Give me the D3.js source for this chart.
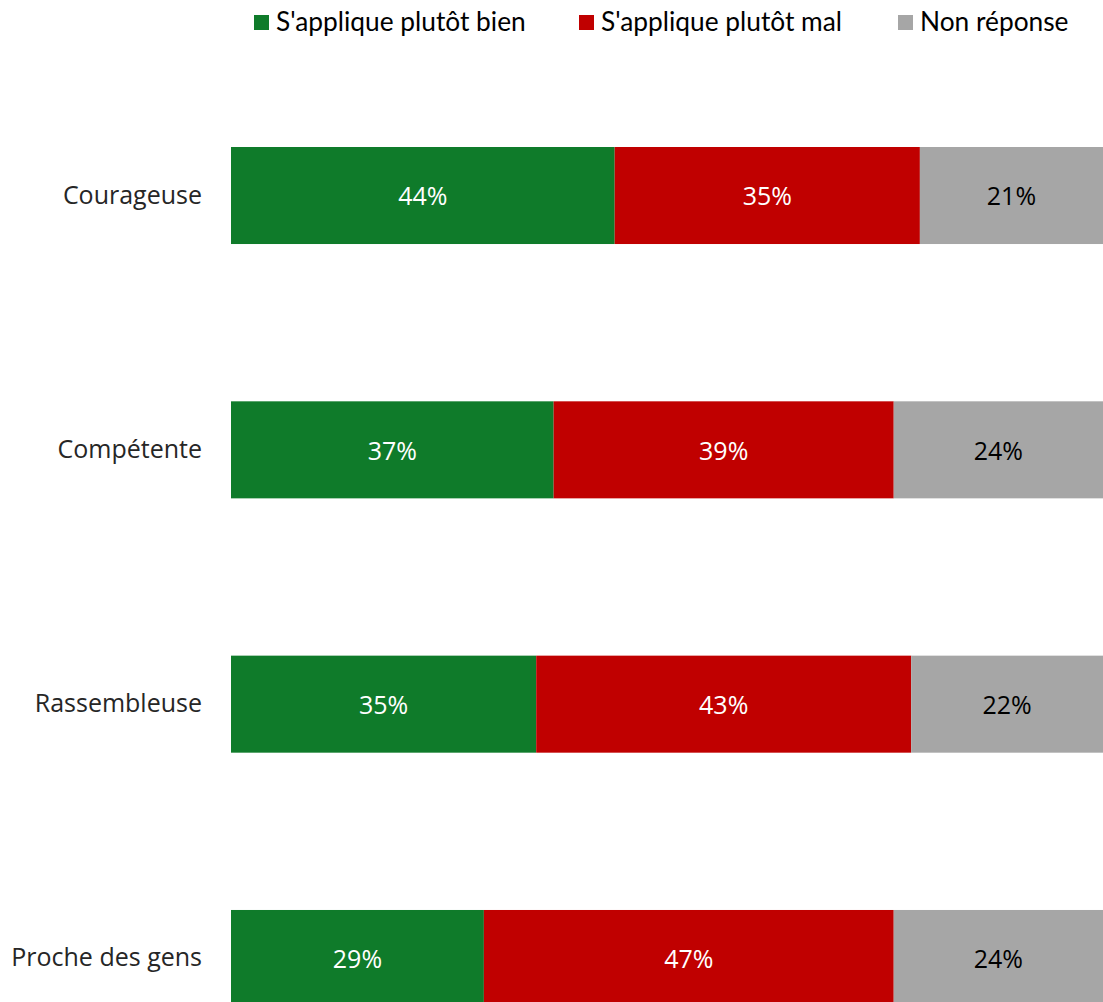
<!DOCTYPE html>
<html><head><meta charset="utf-8">
<script src="https://cdn.jsdelivr.net/npm/d3@7"></script>
<style>body{margin:0;background:#fff}svg{display:block}</style>
</head><body>
<svg id="c" width="1103" height="1002"></svg>
<script>
const categories = ["Courageuse","Compétente","Rassembleuse","Proche des gens"];
const seriesNames = ["S'applique plutôt bien","S'applique plutôt mal","Non réponse"];
const bien = [44,37,35,29];
const mal = [35,39,43,47];
const nonRep = [21,24,22,24];
const colors = ["#0f7b2a","#c00000","#a6a6a6"];
const textColors = ["#ffffff","#ffffff","#000000"];

const svg = d3.select("#c");
const x = d3.scaleLinear().domain([0,100]).range([231,1103]);
const y = d3.scaleBand().domain(categories).range([147,1007]).paddingInner(0.6185).paddingOuter(0);

const rows = categories.map((c,i)=>({cat:c, vals:[bien[i],mal[i],nonRep[i]]}));
const stack = d3.stack().keys([0,1,2]).value((d,k)=>d.vals[k]);
const series = stack(rows);

series.forEach((s,k)=>{
  const g = svg.append("g");
  g.selectAll("rect").data(s).enter().append("rect")
    .attr("x",d=>x(d[0])).attr("width",d=>x(d[1])-x(d[0]))
    .attr("y",d=>y(d.data.cat)).attr("height",y.bandwidth())
    .attr("fill",colors[k]);
  g.selectAll("text").data(s).enter().append("text")
    .attr("x",d=>(x(d[0])+x(d[1]))/2)
    .attr("y",d=>y(d.data.cat)+y.bandwidth()/2+1)
    .attr("dy","0.35em").attr("text-anchor","middle")
    .style("font-family","'Open Sans', sans-serif").style("font-size","25px")
    .attr("fill",textColors[k])
    .text(d=>(d[1]-d[0])+"%");
});

const yAxis = svg.append("g").attr("transform","translate(231,0)")
  .call(d3.axisLeft(y).tickSize(0).tickPadding(29));
yAxis.select(".domain").remove();
yAxis.selectAll("text").style("font-family","'Open Sans', sans-serif").style("font-size","25px").attr("fill","#262626");

const legendX = [254,579,898];
const leg = svg.append("g");
seriesNames.forEach((n,k)=>{
  leg.append("rect").attr("x",legendX[k]).attr("y",15).attr("width",15).attr("height",15).attr("fill",colors[k]);
  leg.append("text").attr("x",legendX[k]+22).attr("y",31)
    .style("font-family","Lato, sans-serif").style("font-size","26.3px").attr("fill","#000")
    .text(n);
});
</script>
</body></html>
